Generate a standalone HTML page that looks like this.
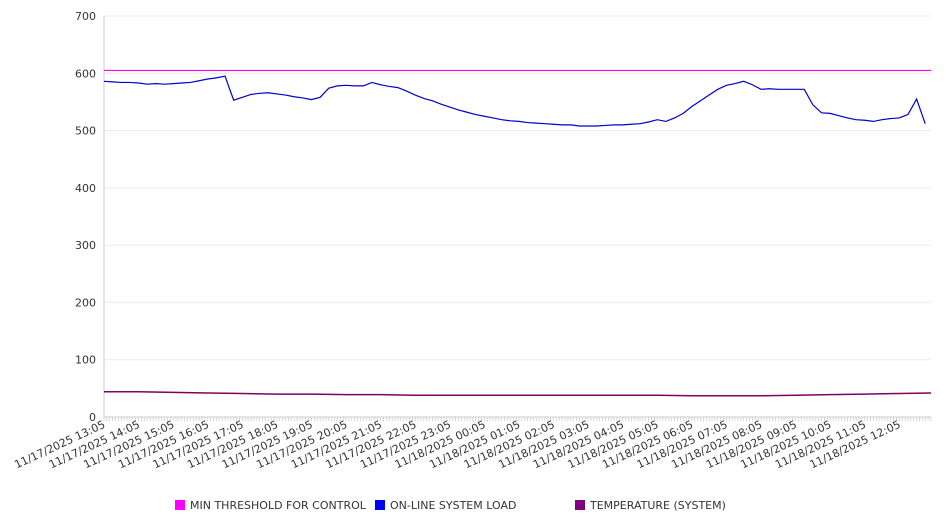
<!DOCTYPE html>
<html><head><meta charset="utf-8"><style>
body{margin:0;background:#fff;}
svg{font-family:"DejaVu Sans","Liberation Sans",sans-serif;}
</style></head><body>
<svg id="chart" width="946" height="526"></svg>
<script>
const xLabels=["11/17/2025 13:05","11/17/2025 14:05","11/17/2025 15:05","11/17/2025 16:05","11/17/2025 17:05","11/17/2025 18:05","11/17/2025 19:05","11/17/2025 20:05","11/17/2025 21:05","11/17/2025 22:05","11/17/2025 23:05","11/18/2025 00:05","11/18/2025 01:05","11/18/2025 02:05","11/18/2025 03:05","11/18/2025 04:05","11/18/2025 05:05","11/18/2025 06:05","11/18/2025 07:05","11/18/2025 08:05","11/18/2025 09:05","11/18/2025 10:05","11/18/2025 11:05","11/18/2025 12:05"];
const yTicks=[0,100,200,300,400,500,600,700];
// on-line load, every 15 minutes
const loadValues=[586,585,584,584,583,581,582,581,582,583,584,587,590,592,595,553,558,563,565,566,564,562,559,557,554,558,574,578,579,578,578,584,580,577,575,569,562,556,552,546,541,536,532,528,525,522,519,517,516,514,513,512,511,510,510,508,508,508,509,510,510,511,512,515,519,516,522,530,542,552,562,572,579,582,586,580,572,573,572,572,572,572,545,531,530,526,522,519,518,516,519,521,522,528,555,512];
// temperature, hourly
const tempValues=[44,44,43,42,41,40,40,39,39,38,38,38,38,38,38,38,38,37,37,37,38,39,40,41,42];
const thresholdValue=605;
const legendNames=["MIN THRESHOLD FOR CONTROL","ON-LINE SYSTEM LOAD","TEMPERATURE (SYSTEM)"];
const legendColors=["#ff00ff","#0000ff","#800080"];

const NS="http://www.w3.org/2000/svg";
const svg=document.getElementById('chart');
const X0=104,X1=931,Y0=417,Y1=16,STEPS=287; // 5-min steps
const xs=t5=>X0+(t5/STEPS)*(X1-X0);
const ys=v=>Y0-(v/700)*(Y0-Y1);
function el(tag,attrs,parent){const e=document.createElementNS(NS,tag);for(const k in attrs)e.setAttribute(k,attrs[k]);(parent||svg).appendChild(e);return e;}

yTicks.forEach(v=>{
  const g=el('line',{x1:X0,x2:X1,y1:ys(v),y2:ys(v),stroke:v===0?'#ccc':'#ebebeb','stroke-width':1});
  
  
  const t=el('text',{x:96,y:ys(v)+4,'text-anchor':'end','font-size':11,fill:'#333'});
  t.textContent=v;
  
  
});
const ax=el('line',{x1:X0,x2:X0,y1:Y1,y2:Y0,stroke:'#ccc'});


for(let i=0;i<=STEPS;i++){
  const tk=el('line',{x1:xs(i),x2:xs(i),y1:Y0,y2:Y0+4,stroke:'#ccc','stroke-width':0.8});
  
  
}
xLabels.forEach((s,i)=>{
  const x=xs(i*12)+2;
  const t=el('text',{x:x,y:427,'text-anchor':'end','font-size':11,fill:'#333',transform:`rotate(-25 ${x} 427)`});
  t.textContent=s;
  
  
});
const th=el('line',{x1:X0,x2:X1,y1:ys(thresholdValue),y2:ys(thresholdValue),stroke:'#ff00ff','stroke-width':1.2});


const lp=el('polyline',{points:loadValues.map((v,i)=>xs(i*3)+','+ys(v)).join(' '),fill:'none',stroke:'#0000cc','stroke-width':1.2});


const tp=el('polyline',{points:tempValues.map((v,i)=>xs(Math.min(i*12,STEPS))+','+ys(v)).join(' '),fill:'none',stroke:'#800060','stroke-width':1.5});


const lx=[175,375,575];
legendNames.forEach((n,i)=>{
  const r=el('rect',{x:lx[i],y:500,width:10,height:10,fill:legendColors[i]});
  
  
  const t=el('text',{x:lx[i]+15,y:509,'font-size':11,fill:'#333'});
  t.textContent=n;
  
  
});
</script>
</body></html>
